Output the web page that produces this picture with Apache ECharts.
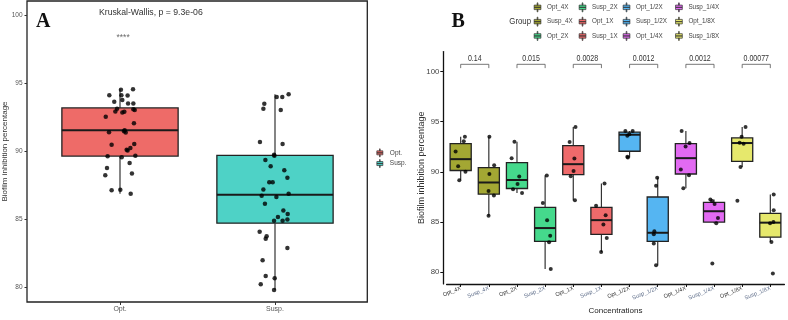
<!DOCTYPE html>
<html>
<head>
<meta charset="utf-8">
<script src="https://cdn.jsdelivr.net/npm/echarts@6/dist/echarts.min.js"></script>
<style>html,body{margin:0;padding:0;background:#fff}#main{width:788px;height:320px}</style>
</head>
<body>
<div id="main"></div>
<script>
// ---------- panel A ----------
var groupsA = ['Opt.', 'Susp.'];
var colorsA = ['#EE6B68', '#4ED2C6'];
// [min, Q1, median, Q3, max]
var boxA = [
  [86.87, 89.65, 91.55, 93.2, 94.58],
  [79.78, 84.7, 86.8, 89.7, 94.21]
];
var optValues = [94.53, 94.58, 94.14, 94.14, 94.11, 93.65, 93.79, 93.52, 93.52, 93.13, 92.93, 92.86,
  92.91, 93.10, 93.05, 92.54, 92.07, 91.55, 91.48, 91.40, 91.38, 90.49, 90.12, 90.25,
  90.54, 90.05, 89.63, 89.56, 89.68, 89.14, 88.77, 88.23, 88.37, 87.12, 87.17, 86.87];
var optJitter = [0.006, 0.084, -0.069, 0.009, 0.049, -0.037, 0.015, 0.052, 0.086, -0.019, -0.030, 0.015,
  0.028, 0.086, 0.095, -0.092, 0.090, 0.030, 0.026, -0.071, 0.037, -0.054, 0.043, 0.067,
  0.092, 0.049, -0.080, 0.011, 0.099, 0.062, -0.084, -0.095, 0.077, -0.054, 0.002, 0.069];
var suspValues = [94.21, 94.01, 94.01, 93.50, 93.13, 93.05, 90.69, 90.54, 89.75, 89.68, 89.36, 88.89,
  88.60, 87.71, 87.71, 88.05, 87.19, 86.87, 86.72, 86.63, 86.13, 85.64, 85.37, 85.15,
  84.88, 84.88, 84.98, 84.06, 83.74, 83.55, 82.88, 81.97, 80.81, 80.64, 80.20, 79.78];
var suspJitter = [0.088, 0.011, 0.047, -0.069, -0.075, 0.037, -0.097, 0.049, -0.006, -0.004, -0.062, -0.028,
  0.060, -0.037, -0.015, 0.080, -0.075, 0.088, -0.086, 0.009, -0.065, 0.054, 0.082, 0.019,
  -0.006, 0.049, 0.080, -0.099, -0.054, -0.060, 0.080, -0.080, -0.060, -0.002, -0.092, -0.006];
var kwText = 'Kruskal-Wallis, p = 9.3e-06';
var sigA = ['****', 98.4];

// ---------- panel B ----------
var groupsB = ['Opt_4X', 'Susp_4X', 'Opt_2X', 'Susp_2X', 'Opt_1X', 'Susp_1X',
  'Opt_1/2X', 'Susp_1/2X', 'Opt_1/4X', 'Susp_1/4X', 'Opt_1/8X', 'Susp_1/8X'];
var colorsB = ['#A3A733', '#A3A733', '#45D98C', '#45D98C', '#EF6A6B', '#EF6A6B',
  '#55B5F2', '#55B5F2', '#E26AF2', '#E26AF2', '#E6E86C', '#E6E86C'];
var boxB = [
  [89.15, 90.13, 91.26, 92.81, 93.5],
  [85.62, 87.76, 88.93, 90.41, 93.5],
  [87.88, 88.33, 89.18, 90.91, 93.0],
  [80.28, 83.06, 84.38, 86.44, 89.62],
  [87.16, 89.72, 90.76, 92.62, 94.48],
  [81.99, 83.75, 85.17, 86.44, 88.83],
  [91.42, 92.05, 93.7, 93.96, 94.07],
  [80.66, 83.06, 83.91, 87.48, 89.4],
  [88.36, 89.78, 91.36, 92.81, 94.07],
  [84.86, 84.98, 86.06, 86.94, 87.22],
  [90.47, 91.04, 92.87, 93.38, 94.48],
  [83.0, 83.47, 84.92, 85.84, 87.73]
];
var pointsB = [
  [93.50, 93.06, 92.02, 90.54, 90.00, 89.15],
  [93.50, 90.66, 89.78, 88.08, 87.63, 85.62],
  [93.00, 91.36, 89.53, 88.26, 88.77, 87.88],
  [89.62, 86.88, 85.17, 83.60, 82.97, 80.28],
  [94.48, 92.97, 91.32, 90.09, 89.56, 87.16],
  [88.83, 86.62, 85.65, 84.73, 83.38, 81.99],
  [94.07, 94.07, 93.60, 93.75, 91.51, 91.42],
  [89.40, 88.61, 84.07, 83.75, 82.84, 80.66],
  [94.07, 92.52, 92.87, 90.22, 89.65, 88.36],
  [87.22, 87.07, 86.78, 85.39, 84.86, 80.85],
  [94.48, 93.50, 92.90, 92.81, 90.47, 87.10],
  [87.73, 86.15, 84.86, 84.98, 83.00, 79.84]
];
var jitterB = [
  [0.15, 0.11, -0.18, -0.09, 0.17, -0.05],
  [0.02, 0.19, 0.02, -0.01, 0.18, -0.01],
  [-0.09, -0.19, 0.08, -0.14, 0.02, 0.18],
  [0.06, -0.08, 0.07, 0.18, 0.14, 0.20],
  [0.08, -0.13, 0.04, 0.01, -0.09, 0.06],
  [0.11, -0.19, 0.15, 0.07, 0.19, -0.01],
  [-0.15, 0.11, -0.08, -0.01, -0.08, -0.06],
  [-0.02, -0.06, -0.12, -0.14, -0.14, -0.06],
  [-0.15, -0.01, 0.13, -0.18, 0.11, -0.09],
  [-0.13, -0.07, 0.02, 0.14, 0.08, -0.06],
  [0.12, -0.02, -0.09, 0.05, -0.06, -0.17],
  [0.12, 0.12, -0.01, 0.11, 0.04, 0.09]
];
var pairsB = [[0, 1], [2, 3], [4, 5], [6, 7], [8, 9], [10, 11]];
var pValuesB = ['0.14', '0.015', '0.0028', '0.0012', '0.0012', '0.00077'];
var bracketY = 100.73, bracketTickY = 100.35;
var yTicks = [80, 85, 90, 95, 100];

var sans = "'Liberation Sans', Arial, sans-serif";
var serif = "'Liberation Serif', 'DejaVu Serif', serif";
var boxIcon = 'path://M4.5,0H5.5V3H4.5Z M0.5,3H9.5V6H0.5Z M0.5,6H9.5V9H0.5Z M4.5,9H5.5V12H4.5Z';

function renderBox(params, api) {
  var x = api.value(0);
  var half = api.size([1, 0])[0] * 0.375;
  var pMin = api.coord([x, api.value(1)]);
  var pQ1 = api.coord([x, api.value(2)]);
  var pMed = api.coord([x, api.value(3)]);
  var pQ3 = api.coord([x, api.value(4)]);
  var pMax = api.coord([x, api.value(5)]);
  var line = {stroke: '#333', lineWidth: 1.2};
  return {
    type: 'group',
    children: [
      {type: 'line', shape: {x1: pMax[0], y1: pMax[1], x2: pQ3[0], y2: pQ3[1]}, style: line},
      {type: 'line', shape: {x1: pQ1[0], y1: pQ1[1], x2: pMin[0], y2: pMin[1]}, style: line},
      {type: 'rect', shape: {x: pQ3[0] - half, y: pQ3[1], width: half * 2, height: pQ1[1] - pQ3[1]},
        style: {fill: api.visual('color'), stroke: '#222', lineWidth: 1.3}},
      {type: 'line', shape: {x1: pMed[0] - half, y1: pMed[1], x2: pMed[0] + half, y2: pMed[1]},
        style: {stroke: '#1a1a1a', lineWidth: 2}}
    ]
  };
}

function renderBracket(params, api) {
  var a = api.coord([api.value(0), bracketY]);
  var b = api.coord([api.value(1), bracketY]);
  var a2 = api.coord([api.value(0), bracketTickY]);
  var b2 = api.coord([api.value(1), bracketTickY]);
  return {
    type: 'group',
    children: [
      {type: 'polyline', shape: {points: [a2, a, b, b2]}, style: {stroke: '#555', lineWidth: 0.8, fill: null}},
      {type: 'text', x: (a[0] + b[0]) / 2, y: a[1] - 1, scaleX: 0.82,
        style: {text: pValuesB[params.dataIndex], align: 'center', verticalAlign: 'bottom',
          fontSize: 8.6, fontFamily: sans, fill: '#333'}}
    ]
  };
}

var series = [];
groupsA.forEach(function (g, i) {
  series.push({
    name: g, type: 'custom', xAxisIndex: 0, yAxisIndex: 0,
    itemStyle: {color: colorsA[i]},
    encode: {x: 0, y: [1, 2, 3, 4, 5]},
    renderItem: renderBox,
    data: [[i].concat(boxA[i])]
  });
});
var scatterA = [];
optValues.forEach(function (v, i) { scatterA.push([0 + optJitter[i], v]); });
suspValues.forEach(function (v, i) { scatterA.push([1 + suspJitter[i], v]); });
series.push({
  type: 'scatter', xAxisIndex: 1, yAxisIndex: 0, symbolSize: 4.5,
  itemStyle: {color: '#000'}, data: scatterA, z: 5
});
series.push({
  type: 'scatter', xAxisIndex: 1, yAxisIndex: 0, symbolSize: 0,
  label: {show: true, position: 'inside', formatter: sigA[0], fontSize: 8.5, color: '#444', fontFamily: sans},
  data: [[0.02, sigA[1]]]
});

groupsB.forEach(function (g, i) {
  series.push({
    name: g, type: 'custom', xAxisIndex: 2, yAxisIndex: 1,
    itemStyle: {color: colorsB[i]},
    encode: {x: 0, y: [1, 2, 3, 4, 5]},
    renderItem: renderBox,
    data: [[i].concat(boxB[i])]
  });
});
var scatterB = [];
pointsB.forEach(function (vals, i) {
  vals.forEach(function (v, j) { scatterB.push([i + jitterB[i][j], v]); });
});
series.push({
  type: 'scatter', xAxisIndex: 3, yAxisIndex: 1, symbolSize: 4,
  itemStyle: {color: '#000'}, data: scatterB, z: 5
});
series.push({
  type: 'custom', xAxisIndex: 2, yAxisIndex: 1,
  renderItem: renderBracket, data: pairsB
});

function legendB(names, left) {
  return {
    orient: 'vertical', left: left, top: 2.5, padding: 0,
    itemWidth: 9, itemHeight: 9, itemGap: 4.6, icon: boxIcon,
    itemStyle: {borderColor: '#333', borderWidth: 0.7},
    textStyle: {fontSize: 6.3, color: '#444', fontFamily: sans},
    data: names, selectedMode: false
  };
}

var chart = echarts.init(document.getElementById('main'));
var option = {
  backgroundColor: '#fff',
  animation: false,
  grid: [
    {left: 42.5, width: 310, top: 1, height: 301},
    {left: 446.6, right: 3.6, top: 51.6, bottom: 23.3}
  ],
  xAxis: [
    {type: 'category', gridIndex: 0, data: groupsA,
      axisLine: {show: false, onZero: false},
      axisTick: {show: true, length: 3, alignWithLabel: true, lineStyle: {color: '#333'}},
      axisLabel: {fontSize: 7, color: '#555', margin: 4, fontFamily: sans}},
    {type: 'value', gridIndex: 0, min: -0.5, max: 1.5, show: false},
    {type: 'category', gridIndex: 1, data: groupsB,
      axisLine: {onZero: false, lineStyle: {color: '#111', width: 1.3}},
      axisTick: {show: true, length: 3, alignWithLabel: true, lineStyle: {color: '#111'}},
      axisLabel: {fontSize: 5.6, rotate: 22, margin: 4, fontFamily: sans, interval: 0,
        color: function (v, i) { return i % 2 ? '#5f6e8a' : '#333'; }},
      name: 'Concentrations', nameLocation: 'middle', nameGap: 14,
      nameTextStyle: {fontSize: 8, color: '#222', fontFamily: sans}},
    {type: 'value', gridIndex: 1, min: -0.5, max: 11.5, show: false}
  ],
  yAxis: [
    {type: 'value', gridIndex: 0, min: 78.89, max: 101.08, offset: 15.5,
      axisLine: {show: false, onZero: false}, splitLine: {show: false},
      axisTick: {show: true, length: 2.5, customValues: yTicks, lineStyle: {color: '#333'}},
      axisLabel: {fontSize: 6.5, color: '#555', margin: 4.5, customValues: yTicks, fontFamily: sans},
      name: 'Biofilm inhibition percentage', nameLocation: 'middle', nameGap: 18, nameMoveOverlap: false,
      nameTextStyle: {fontSize: 8, color: '#333', fontFamily: sans}},
    {type: 'value', gridIndex: 1, min: 78.8, max: 102, offset: 3.3,
      axisLine: {show: true, onZero: false, lineStyle: {color: '#111', width: 1.3}}, splitLine: {show: false},
      axisTick: {show: true, length: 3, customValues: yTicks, lineStyle: {color: '#111'}},
      axisLabel: {fontSize: 7.8, color: '#444', margin: 4, customValues: yTicks, fontFamily: sans},
      name: 'Biofilm inhibition percentage', nameLocation: 'middle', nameGap: 17.5, nameMoveOverlap: false,
      nameTextStyle: {fontSize: 9, color: '#333', fontFamily: sans}}
  ],
  legend: [
    {orient: 'vertical', left: 376.5, top: 148.5, padding: 0,
      itemWidth: 10, itemHeight: 8, itemGap: 2, icon: boxIcon,
      itemStyle: {borderColor: '#333', borderWidth: 0.7},
      textStyle: {fontSize: 6.5, color: '#444', fontFamily: sans},
      data: groupsA, selectedMode: false},
    legendB(groupsB.slice(0, 3), 533.8),
    legendB(groupsB.slice(3, 6), 578.8),
    legendB(groupsB.slice(6, 9), 622.8),
    legendB(groupsB.slice(9, 12), 675.2)
  ],
  graphic: [
    {type: 'rect', shape: {x: 27, y: 1, width: 340.3, height: 301},
      style: {fill: null, stroke: '#222', lineWidth: 1.3}, silent: true},
    {type: 'text', x: 36, y: 21.5,
      style: {text: 'A', fontSize: 20, fontWeight: 'bold', fontFamily: serif, fill: '#111', verticalAlign: 'middle'}},
    {type: 'text', x: 451.5, y: 21.5,
      style: {text: 'B', fontSize: 20, fontWeight: 'bold', fontFamily: serif, fill: '#111', verticalAlign: 'middle'}},
    {type: 'text', x: 99, y: 12.5,
      style: {text: kwText, fontSize: 8.7, fontFamily: sans, fill: '#333', verticalAlign: 'middle'}},
    {type: 'text', x: 531, y: 21, scaleX: 0.82, originX: 0, originY: 0,
      style: {text: 'Group', fontSize: 9.5, fontFamily: sans, fill: '#333', align: 'right', verticalAlign: 'middle'}}
  ],
  series: series
};
chart.setOption(option);
window.addEventListener('resize', function () { chart.resize(); });
</script>
</body>
</html>
